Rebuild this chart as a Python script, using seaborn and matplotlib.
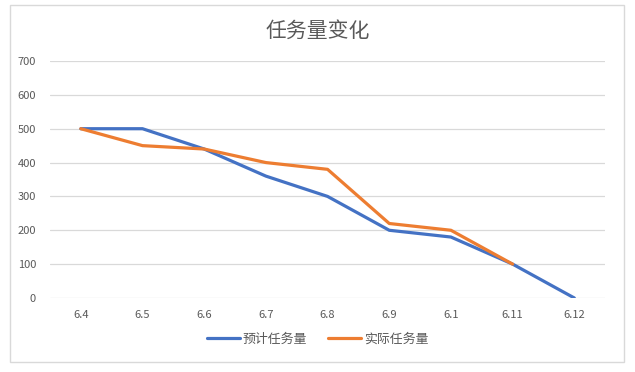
import matplotlib.pyplot as plt
import matplotlib.patches as mpatches
import seaborn as sns
import pandas as pd
import numpy as np

sns.set_theme(style="white")
plt.rcParams["font.family"] = ["Noto Sans CJK SC", "DejaVu Sans"]
plt.rcParams["axes.unicode_minus"] = False

# 数据
dates = ["6.4", "6.5", "6.6", "6.7", "6.8", "6.9", "6.1", "6.11", "6.12"]
plan = [500, 500, 440, 360, 300, 200, 180, 100, 0]
actual = [500, 450, 440, 400, 380, 220, 200, 100, np.nan]
series_names = ["预计任务量", "实际任务量"]
colors = ["#4472C4", "#ED7D31"]

df = pd.DataFrame({
    "date": dates * 2,
    "value": plan + actual,
    "series": [series_names[0]] * len(dates) + [series_names[1]] * len(dates),
})
df = df.dropna()

fig = plt.figure(figsize=(6.35, 3.72), dpi=100)
ax = fig.add_axes([0.0787, 0.199, 0.8743, 0.637])

sns.lineplot(data=df, x="date", y="value", hue="series", palette=colors,
             linewidth=2.3, ax=ax, sort=False, legend=False)

ax.set_xlim(-0.5, len(dates) - 0.5)
ax.set_ylim(0, 700)
ax.set_yticks(range(0, 701, 100))
ax.set_xticks(range(len(dates)))
ax.set_xticklabels(dates)
ax.yaxis.grid(True, color="#D9D9D9", linewidth=0.9)
ax.set_axisbelow(True)
for s in ax.spines.values():
    s.set_visible(False)
ax.tick_params(axis="both", length=0, labelsize=8, colors="#595959")
ax.tick_params(axis="x", pad=9)
ax.tick_params(axis="y", pad=10)
ax.set_xlabel("")
ax.set_ylabel("")

# 标题
fig.text(0.5, 0.918, "任务量变化", ha="center", va="center", fontsize=15, color="#595959")

# 图例
handles = [plt.Line2D([0], [0], color=c, linewidth=2.3) for c in colors]
fig.legend(handles, series_names, loc="center", bbox_to_anchor=(0.5, 0.088), ncol=2,
           frameon=False, fontsize=9.3, labelcolor="#595959", handlelength=2.6,
           handletextpad=0.2, columnspacing=1.6)

# 外框
fig.patches.append(mpatches.Rectangle((0.0157, 0.027), 0.967, 0.96, transform=fig.transFigure,
                                      fill=False, edgecolor="#D9D9D9", linewidth=1))

fig.savefig("out.png", dpi=100)
